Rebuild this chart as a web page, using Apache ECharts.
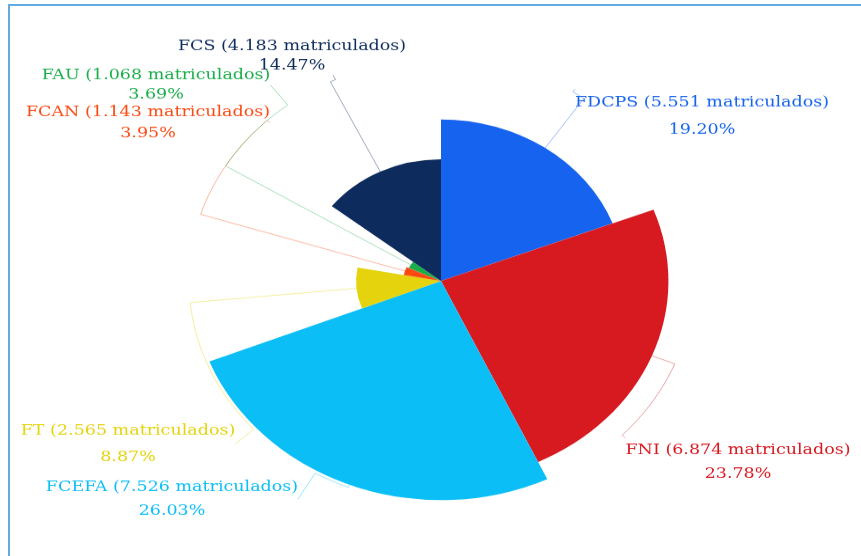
<!DOCTYPE html>
<html>
<head>
<meta charset="utf-8">
<script src="https://cdn.jsdelivr.net/npm/echarts@6/dist/echarts.min.js"></script>
<style>
  html, body { margin: 0; padding: 0; background: #fff; overflow: hidden; }
  #frame { position: absolute; left: 8px; top: 4px; right: -10px; bottom: -10px; border: 2px solid #5fabe2; }
  #chart { position: absolute; left: 0; top: 0; width: 861px; height: 632px; transform: scaleY(0.88); transform-origin: 0 0; }
</style>
</head>
<body>
<div id="frame"></div>
<div id="chart"></div>
<script>
const faculties = ["FDCPS", "FNI", "FCEFA", "FT", "FCAN", "FAU", "FCS"];
const students = [5551, 6874, 7526, 2565, 1143, 1068, 4183];
const colors = ["#1563ee", "#d71920", "#0bbff6", "#e5d30e", "#fc4a12", "#1aae4a", "#0e2b5d"];

// label block centres, in picture pixels, and which side of the label the guide line meets
const labelAt = [[702, 116], [738, 462], [172, 499], [128, 444], [148, 123], [156, 85], [292, 56]];
const labelGap = [27, 24, 24, 26, 21, 19, 19];
const lineEnd = ["lt", "lt", "rm", "rm", "rm", "rm", "br"];

const SY = 0.88; // the picture is squashed vertically
const CX = 441, CY = 281 / SY, R = 249, RL = 252;
const total = students.reduce((a, b) => a + b, 0);
const fmt = (n) => String(n).replace(/\B(?=(\d{3})+(?!\d))/g, ".");

const chart = echarts.init(document.getElementById("chart"));

const seriesData = faculties.map((name, i) => ({
  name: name,
  value: students[i],
  itemStyle: { color: colors[i] },
  label: { color: colors[i], lineHeight: labelGap[i] / SY },
  labelLine: { lineStyle: { color: colors[i] } },
}));

// guide: out from the slice to the ring RL, round the ring, then to the label
function guide(params, x, y) {
  const i = params.dataIndex;
  const w = params.labelRect.width, h = params.labelRect.height;
  const left = x - w / 2, top = y - h / 2;
  let end;
  if (lineEnd[i] === "lt") end = [left, top];
  else if (lineEnd[i] === "rm") end = [left + w, y];
  else end = [left + w * 0.68, top + h];
  const p0 = params.labelLinePoints ? params.labelLinePoints[0] : [CX, CY];
  const a0 = Math.atan2(p0[1] - CY, p0[0] - CX);
  let a1 = Math.atan2(end[1] - CY, end[0] - CX);
  while (a1 - a0 > Math.PI) a1 -= 2 * Math.PI;
  while (a0 - a1 > Math.PI) a1 += 2 * Math.PI;
  const pts = [p0];
  const steps = Math.max(1, Math.ceil(Math.abs(a1 - a0) / 0.03));
  for (let k = 0; k <= steps; k++) {
    const a = a0 + ((a1 - a0) * k) / steps;
    pts.push([CX + RL * Math.cos(a), CY + RL * Math.sin(a)]);
  }
  pts.push(end);
  return pts;
}

chart.setOption({
  animation: false,
  series: [
    {
      type: "pie",
      roseType: "radius",
      center: [CX, CY],
      radius: [0, R],
      startAngle: 90,
      clockwise: true,
      avoidLabelOverlap: false,
      data: seriesData,
      label: {
        show: true,
        fontFamily: "DejaVu Serif",
        fontSize: 17.5,
        align: "center",
        formatter: (p) => `${p.name} (${fmt(p.value)} matriculados)\n${((p.value / total) * 100).toFixed(2)}%`,
      },
      labelLine: {
        show: true,
        length: 3,
        length2: 10,
        lineStyle: { width: 1, opacity: 0.4 },
      },
      labelLayout: (params) => {
        const x = labelAt[params.dataIndex][0];
        const y = labelAt[params.dataIndex][1] / SY;
        return { x: x, y: y, align: "center", verticalAlign: "middle", labelLinePoints: guide(params, x, y) };
      },
    },
  ],
});
</script>
</body>
</html>
